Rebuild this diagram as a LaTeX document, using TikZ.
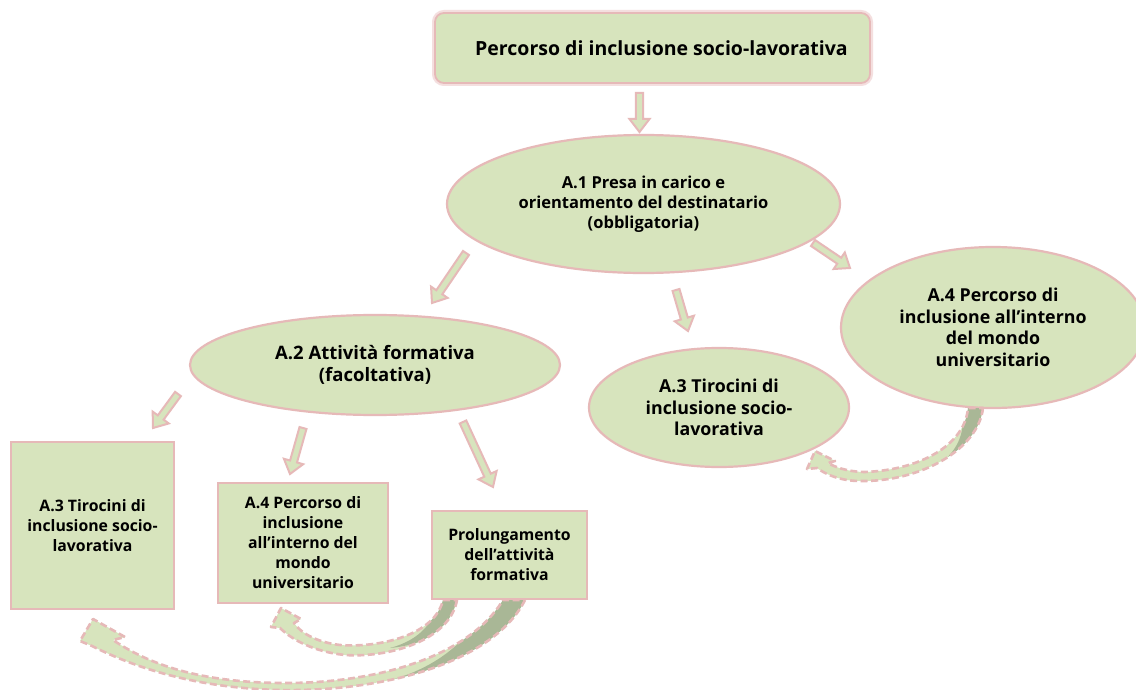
\documentclass[tikz,border=0pt]{standalone}
\usepackage{fontspec}
\setmainfont{Open Sans}
\usetikzlibrary{calc,shapes.geometric}
\definecolor{boxgreen}{HTML}{D7E4BD}
\definecolor{boxpink}{HTML}{E6B9B8}
\definecolor{darkgreen}{HTML}{A9B796}
\tikzset{
  lbl/.style={font=\bfseries\fontsize{15.8}{20}\selectfont, align=center, text=black},
  midlbl/.style={font=\bfseries\fontsize{16.5}{20}\selectfont, align=center, text=black},
  a2lbl/.style={font=\bfseries\fontsize{18.5}{22}\selectfont, align=center, text=black},
  biglbl/.style={font=\bfseries\fontsize{17.8}{21.5}\selectfont, align=center, text=black},
  ell/.style={ellipse, draw=boxpink, fill=boxgreen, line width=2.2pt, inner sep=0pt, lbl},
  rbox/.style={rectangle, draw=boxpink, fill=boxgreen, line width=2.2pt, inner sep=0pt, lbl},
  titlebox/.style={rbox, rounded corners=9pt, line width=1.8pt,
    preaction={draw=boxpink!45, line width=6pt},
    font=\bfseries\fontsize{19.5}{23}\selectfont},
  barrow/.style={draw=boxpink, fill=boxgreen, line width=2pt, line join=miter},
  carrowfill/.style={fill=boxgreen},
  carrowline/.style={draw=boxpink, line width=2.6pt, dash pattern=on 7pt off 3.5pt, line join=round},
}
\newcommand\blockarrow[2]{%
  \coordinate (bah) at ($(#2)!13pt!(#1)$);
  \draw[barrow] ($(#1)!3.6pt!90:(#2)$) -- ($(bah)!3.6pt!90:(#2)$) -- ($(bah)!10pt!90:(#2)$)
    -- (#2) -- ($(bah)!10pt!-90:(#2)$) -- ($(bah)!3.6pt!-90:(#2)$) -- ($(#1)!3.6pt!-90:(#2)$) -- cycle;}
\newcommand\pathOne{(983,408) .. controls (978,450) and (920,482) .. (860,481)
  .. controls (840,481) and (825,474) .. (817,468) -- (807,469) -- (815,451) -- (835,461) -- (828,463)
  .. controls (840,470) and (855,472) .. (865,472) .. controls (920,470) and (965,445) .. (968,408) -- cycle}
\newcommand\pathTwo{(457,600) .. controls (450,640) and (390,658) .. (345,655)
  .. controls (315,652) and (292,640) .. (280,628) -- (271,627) -- (281,608) -- (301,619) -- (294,623)
  .. controls (300,632) and (315,642) .. (340,645) .. controls (380,648) and (435,635) .. (443,600) -- cycle}
\newcommand\pathThree{(525,600) .. controls (495,660) and (390,692) .. (280,690)
  .. controls (190,688) and (130,665) .. (92,646) -- (80,641) -- (93,619) -- (125,637) -- (113,640)
  .. controls (150,665) and (200,682) .. (280,683) .. controls (380,684) and (470,655) .. (503,600) -- cycle}
\begin{document}
\begin{tikzpicture}[x=1pt,y=-1pt]
\clip (0,0) rectangle (1136,690);
\fill[white] (0,0) rectangle (1136,690);

% nodes
\node[titlebox, minimum width=435pt, minimum height=70pt] (title) at (652.5,48)
  {\hspace*{18pt}Percorso di inclusione socio-lavorativa};
\node[ell, midlbl, minimum width=393pt, minimum height=138pt] (A1) at (643.5,204)
  {A.1 Presa in carico e\\orientamento del destinatario\\(obbligatoria)};
\node[ell, a2lbl, minimum width=370pt, minimum height=100pt] (A2) at (375,365)
  {A.2 Attività formativa\\(facoltativa)};
\node[ell, biglbl, minimum width=260pt, minimum height=119pt] (A3e) at (719,407.5)
  {A.3 Tirocini di\\inclusione socio-\\lavorativa};
\node[ell, biglbl, minimum width=304pt, minimum height=161pt] (A4e) at (993,327.5)
  {A.4 Percorso di\\inclusione all'interno\\del mondo\\universitario};
\node[rbox, minimum width=163pt, minimum height=167pt] (A3r) at (92.5,525.5)
  {A.3 Tirocini di\\inclusione socio-\\lavorativa};
\node[rbox, minimum width=170pt, minimum height=120pt] (A4r) at (303,543)
  {A.4 Percorso di\\inclusione\\all'interno del\\mondo\\universitario};
\node[rbox, minimum width=155pt, minimum height=88pt] (P) at (509.5,555)
  {Prolungamento\\dell'attività\\formativa};

% block arrows
\coordinate (t1) at (639.5,93);  \coordinate (h1) at (639.5,132);
\coordinate (t2) at (466,253);   \coordinate (h2) at (432,303);
\coordinate (t3) at (676,290);   \coordinate (h3) at (688,331);
\coordinate (t4) at (813,243);   \coordinate (h4) at (850,268);
\coordinate (t5) at (178,394);   \coordinate (h5) at (153,428);
\coordinate (t6) at (303,428);   \coordinate (h6) at (290,474);
\coordinate (t7) at (463,422);   \coordinate (h7) at (493,487);
\blockarrow{t1}{h1}
\blockarrow{t2}{h2}
\blockarrow{t3}{h3}
\blockarrow{t4}{h4}
\blockarrow{t5}{h5}
\blockarrow{t6}{h6}
\blockarrow{t7}{h7}

% curved arrows
\fill[carrowfill] \pathOne;
\begin{scope}
  \clip \pathOne;
  \fill[darkgreen] (962,400) -- (990,400) -- (982,412) .. controls (978,435) and (968,448) .. (945,460)
    .. controls (960,445) and (966,430) .. (962,400) -- cycle;
\end{scope}
\draw[carrowline] \pathOne;

\fill[carrowfill] \pathTwo;
\begin{scope}
  \clip \pathTwo;
  \fill[darkgreen] (436,590) -- (462,590) -- (456,603) .. controls (446,635) and (420,645) .. (390,648)
    .. controls (420,640) and (440,620) .. (436,590) -- cycle;
\end{scope}
\draw[carrowline] \pathTwo;

\fill[carrowfill] \pathThree;
\begin{scope}
  \clip \pathThree;
  \fill[darkgreen] (495,590) -- (530,590) -- (524,603) .. controls (498,650) and (440,673) .. (372,684)
    .. controls (420,676) and (470,650) .. (495,590) -- cycle;
\end{scope}
\draw[carrowline] \pathThree;
\end{tikzpicture}
\end{document}
